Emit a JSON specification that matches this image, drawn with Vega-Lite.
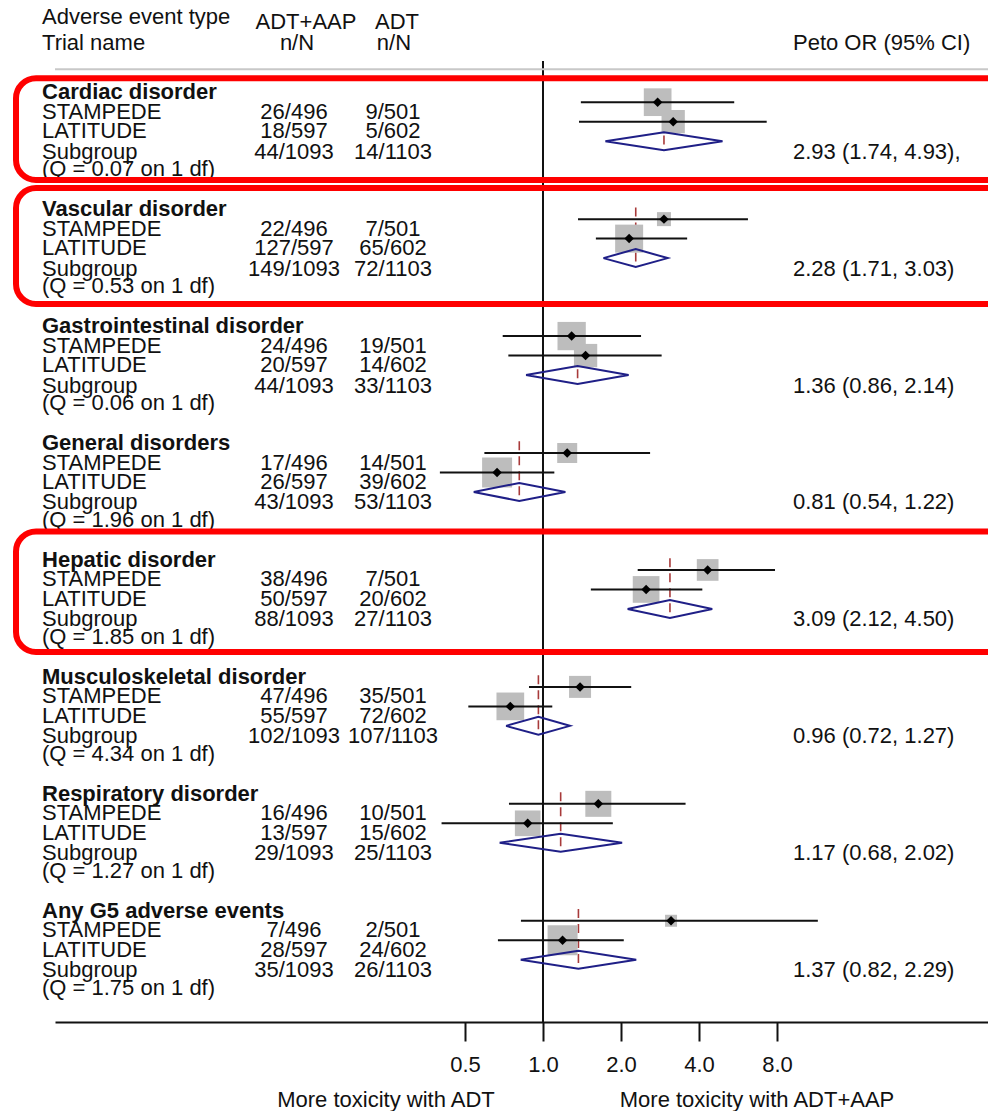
{
  "$schema": "https://vega.github.io/schema/vega-lite/v6.json",
  "width": 933,
  "height": 1022,
  "padding": {"left": 55, "top": 0, "right": 0, "bottom": 89},
  "autosize": {"type": "none"},
  "background": "white",
  "config": {
    "view": {"stroke": null},
    "text": {"font": "Liberation Sans", "fontSize": 22, "color": "#111111", "baseline": "middle", "dy": 9.5},
    "axisX": {"grid": false, "tickSize": 19, "tickWidth": 2, "tickColor": "#111111", "domainColor": "#111111", "domainWidth": 2, "labelFont": "Liberation Sans", "labelFontSize": 22, "labelColor": "#111111", "labelPadding": 13, "labelOverlap": false, "labelFlush": false}
  },
  "datasets": {
    "trials": [
      {"g": 0, "trial": "STAMPEDE", "row": 1, "or": 2.77, "lo": 1.40, "hi": 5.47, "w": 767},
      {"g": 0, "trial": "LATITUDE", "row": 2, "or": 3.18, "lo": 1.377, "hi": 7.30, "w": 543},
      {"g": 1, "trial": "STAMPEDE", "row": 7, "or": 2.93, "lo": 1.365, "hi": 6.18, "w": 196},
      {"g": 1, "trial": "LATITUDE", "row": 8, "or": 2.15, "lo": 1.60, "hi": 3.60, "w": 784},
      {"g": 2, "trial": "STAMPEDE", "row": 13, "or": 1.29, "lo": 0.699, "hi": 2.39, "w": 801},
      {"g": 2, "trial": "LATITUDE", "row": 14, "or": 1.46, "lo": 0.735, "hi": 2.87, "w": 543},
      {"g": 3, "trial": "STAMPEDE", "row": 19, "or": 1.24, "lo": 0.594, "hi": 2.59, "w": 400},
      {"g": 3, "trial": "LATITUDE", "row": 20, "or": 0.665, "lo": 0.400, "hi": 1.106, "w": 900},
      {"g": 4, "trial": "STAMPEDE", "row": 25, "or": 4.32, "lo": 2.32, "hi": 7.86, "w": 471},
      {"g": 4, "trial": "LATITUDE", "row": 26, "or": 2.50, "lo": 1.53, "hi": 4.12, "w": 713},
      {"g": 5, "trial": "STAMPEDE", "row": 31, "or": 1.39, "lo": 0.883, "hi": 2.19, "w": 484},
      {"g": 5, "trial": "LATITUDE", "row": 32, "or": 0.748, "lo": 0.515, "hi": 1.086, "w": 767},
      {"g": 6, "trial": "STAMPEDE", "row": 37, "or": 1.635, "lo": 0.739, "hi": 3.55, "w": 676},
      {"g": 6, "trial": "LATITUDE", "row": 38, "or": 0.873, "lo": 0.406, "hi": 1.86, "w": 660},
      {"g": 7, "trial": "STAMPEDE", "row": 43, "or": 3.12, "lo": 0.822, "hi": 11.5, "w": 144},
      {"g": 7, "trial": "LATITUDE", "row": 44, "or": 1.19, "lo": 0.670, "hi": 2.05, "w": 900}
    ],
    "subgroups": [
      {"g": 0, "or": 2.93, "lo": 1.74, "hi": 4.93, "top": 0.4, "bot": 3.48},
      {"g": 1, "or": 2.28, "lo": 1.71, "hi": 3.03, "top": 6.4, "bot": 9.48},
      {"g": 2, "or": 1.36, "lo": 0.86, "hi": 2.14, "top": 12.4, "bot": 15.48},
      {"g": 3, "or": 0.81, "lo": 0.54, "hi": 1.22, "top": 18.4, "bot": 21.48},
      {"g": 4, "or": 3.09, "lo": 2.12, "hi": 4.50, "top": 24.4, "bot": 27.48},
      {"g": 5, "or": 0.96, "lo": 0.72, "hi": 1.27, "top": 30.4, "bot": 33.48},
      {"g": 6, "or": 1.17, "lo": 0.68, "hi": 2.02, "top": 36.4, "bot": 39.48},
      {"g": 7, "or": 1.37, "lo": 0.82, "hi": 2.29, "top": 42.4, "bot": 45.48}
    ],
    "diamonds": [
      {"g": 0, "k": 0, "x": 1.74, "y": 3}, {"g": 0, "k": 1, "x": 2.93, "y": 2.54}, {"g": 0, "k": 2, "x": 4.93, "y": 3}, {"g": 0, "k": 3, "x": 2.93, "y": 3.46}, {"g": 0, "k": 4, "x": 1.74, "y": 3},
      {"g": 1, "k": 0, "x": 1.71, "y": 9}, {"g": 1, "k": 1, "x": 2.28, "y": 8.54}, {"g": 1, "k": 2, "x": 3.03, "y": 9}, {"g": 1, "k": 3, "x": 2.28, "y": 9.46}, {"g": 1, "k": 4, "x": 1.71, "y": 9},
      {"g": 2, "k": 0, "x": 0.86, "y": 15}, {"g": 2, "k": 1, "x": 1.36, "y": 14.54}, {"g": 2, "k": 2, "x": 2.14, "y": 15}, {"g": 2, "k": 3, "x": 1.36, "y": 15.46}, {"g": 2, "k": 4, "x": 0.86, "y": 15},
      {"g": 3, "k": 0, "x": 0.54, "y": 21}, {"g": 3, "k": 1, "x": 0.81, "y": 20.54}, {"g": 3, "k": 2, "x": 1.22, "y": 21}, {"g": 3, "k": 3, "x": 0.81, "y": 21.46}, {"g": 3, "k": 4, "x": 0.54, "y": 21},
      {"g": 4, "k": 0, "x": 2.12, "y": 27}, {"g": 4, "k": 1, "x": 3.09, "y": 26.54}, {"g": 4, "k": 2, "x": 4.50, "y": 27}, {"g": 4, "k": 3, "x": 3.09, "y": 27.46}, {"g": 4, "k": 4, "x": 2.12, "y": 27},
      {"g": 5, "k": 0, "x": 0.72, "y": 33}, {"g": 5, "k": 1, "x": 0.96, "y": 32.54}, {"g": 5, "k": 2, "x": 1.27, "y": 33}, {"g": 5, "k": 3, "x": 0.96, "y": 33.46}, {"g": 5, "k": 4, "x": 0.72, "y": 33},
      {"g": 6, "k": 0, "x": 0.68, "y": 39}, {"g": 6, "k": 1, "x": 1.17, "y": 38.54}, {"g": 6, "k": 2, "x": 2.02, "y": 39}, {"g": 6, "k": 3, "x": 1.17, "y": 39.46}, {"g": 6, "k": 4, "x": 0.68, "y": 39},
      {"g": 7, "k": 0, "x": 0.82, "y": 45}, {"g": 7, "k": 1, "x": 1.37, "y": 44.54}, {"g": 7, "k": 2, "x": 2.29, "y": 45}, {"g": 7, "k": 3, "x": 1.37, "y": 45.46}, {"g": 7, "k": 4, "x": 0.82, "y": 45}
    ],
    "table": [
      {"row": 0, "name": "Cardiac disorder", "bold": true},
      {"row": 1, "name": "STAMPEDE", "aap": "26/496", "adt": "9/501"},
      {"row": 2, "name": "LATITUDE", "aap": "18/597", "adt": "5/602"},
      {"row": 3.05, "name": "Subgroup", "aap": "44/1093", "adt": "14/1103", "ci": "2.93 (1.74, 4.93),"},
      {"row": 3.95, "name": "(Q = 0.07 on 1 df)"},
      {"row": 6, "name": "Vascular disorder", "bold": true},
      {"row": 7, "name": "STAMPEDE", "aap": "22/496", "adt": "7/501"},
      {"row": 8, "name": "LATITUDE", "aap": "127/597", "adt": "65/602"},
      {"row": 9.05, "name": "Subgroup", "aap": "149/1093", "adt": "72/1103", "ci": "2.28 (1.71, 3.03)"},
      {"row": 9.95, "name": "(Q = 0.53 on 1 df)"},
      {"row": 12, "name": "Gastrointestinal disorder", "bold": true},
      {"row": 13, "name": "STAMPEDE", "aap": "24/496", "adt": "19/501"},
      {"row": 14, "name": "LATITUDE", "aap": "20/597", "adt": "14/602"},
      {"row": 15.05, "name": "Subgroup", "aap": "44/1093", "adt": "33/1103", "ci": "1.36 (0.86, 2.14)"},
      {"row": 15.95, "name": "(Q = 0.06 on 1 df)"},
      {"row": 18, "name": "General disorders", "bold": true},
      {"row": 19, "name": "STAMPEDE", "aap": "17/496", "adt": "14/501"},
      {"row": 20, "name": "LATITUDE", "aap": "26/597", "adt": "39/602"},
      {"row": 21.05, "name": "Subgroup", "aap": "43/1093", "adt": "53/1103", "ci": "0.81 (0.54, 1.22)"},
      {"row": 21.95, "name": "(Q = 1.96 on 1 df)"},
      {"row": 24, "name": "Hepatic disorder", "bold": true},
      {"row": 25, "name": "STAMPEDE", "aap": "38/496", "adt": "7/501"},
      {"row": 26, "name": "LATITUDE", "aap": "50/597", "adt": "20/602"},
      {"row": 27.05, "name": "Subgroup", "aap": "88/1093", "adt": "27/1103", "ci": "3.09 (2.12, 4.50)"},
      {"row": 27.95, "name": "(Q = 1.85 on 1 df)"},
      {"row": 30, "name": "Musculoskeletal disorder", "bold": true},
      {"row": 31, "name": "STAMPEDE", "aap": "47/496", "adt": "35/501"},
      {"row": 32, "name": "LATITUDE", "aap": "55/597", "adt": "72/602"},
      {"row": 33.05, "name": "Subgroup", "aap": "102/1093", "adt": "107/1103", "ci": "0.96 (0.72, 1.27)"},
      {"row": 33.95, "name": "(Q = 4.34 on 1 df)"},
      {"row": 36, "name": "Respiratory disorder", "bold": true},
      {"row": 37, "name": "STAMPEDE", "aap": "16/496", "adt": "10/501"},
      {"row": 38, "name": "LATITUDE", "aap": "13/597", "adt": "15/602"},
      {"row": 39.05, "name": "Subgroup", "aap": "29/1093", "adt": "25/1103", "ci": "1.17 (0.68, 2.02)"},
      {"row": 39.95, "name": "(Q = 1.27 on 1 df)"},
      {"row": 42, "name": "Any G5 adverse events", "bold": true},
      {"row": 43, "name": "STAMPEDE", "aap": "7/496", "adt": "2/501"},
      {"row": 44, "name": "LATITUDE", "aap": "28/597", "adt": "24/602"},
      {"row": 45.05, "name": "Subgroup", "aap": "35/1093", "adt": "26/1103", "ci": "1.37 (0.82, 2.29)"},
      {"row": 45.95, "name": "(Q = 1.75 on 1 df)"}
    ],
    "boxes": [
      {"name": "Cardiac", "top": -0.226, "bot": 4.99},
      {"name": "Vascular", "top": 5.40, "bot": 11.36},
      {"name": "Hepatic", "top": 23.03, "bot": 29.21}
    ]
  },
  "layer": [
    {
      "data": {"name": "subgroups"},
      "mark": {"type": "rule", "color": "#a83a3a", "strokeWidth": 1.6, "strokeDash": [9, 6]},
      "encoding": {
        "x": {"field": "or", "type": "quantitative", "scale": {"type": "log", "domain": [0.013081, 52.17], "nice": false}, "axis": {"values": [0.5, 1, 2, 4, 8], "format": ".1f", "title": null}},
        "y": {"field": "top", "type": "quantitative", "scale": {"domain": [-4.243, 48.194], "reverse": true, "nice": false, "zero": false}, "axis": null},
        "y2": {"field": "bot"}
      }
    },
    {
      "data": {"values": [{"ref": 1}]},
      "mark": {"type": "rule", "color": "#111111", "strokeWidth": 2},
      "encoding": {
        "x": {"field": "ref", "type": "quantitative", "axis": {"values": [0.5, 1, 2, 4, 8], "format": ".1f", "title": null}},
        "y": {"datum": -1.11, "type": "quantitative", "axis": null},
        "y2": {"datum": 48.194}
      }
    },
    {
      "data": {"values": [{"a": 0.013081, "b": 52.17}]},
      "mark": {"type": "rule", "color": "#c8c8c8", "strokeWidth": 2},
      "encoding": {
        "x": {"field": "a", "type": "quantitative", "axis": {"values": [0.5, 1, 2, 4, 8], "format": ".1f", "title": null}},
        "x2": {"field": "b"},
        "y": {"datum": -0.69, "type": "quantitative", "axis": null}
      }
    },
    {
      "data": {"name": "trials"},
      "mark": {"type": "point", "shape": "square", "filled": true, "color": "#bdbdbd", "opacity": 1, "strokeWidth": 0},
      "encoding": {
        "x": {"field": "or", "type": "quantitative", "axis": {"values": [0.5, 1, 2, 4, 8], "format": ".1f", "title": null}},
        "y": {"field": "row", "type": "quantitative", "axis": null},
        "size": {"field": "w", "type": "quantitative", "scale": {"type": "linear", "domain": [0, 1000], "range": [0, 1000]}, "legend": null}
      }
    },
    {
      "data": {"name": "trials"},
      "mark": {"type": "rule", "color": "#111111", "strokeWidth": 2},
      "encoding": {
        "x": {"field": "lo", "type": "quantitative", "axis": {"values": [0.5, 1, 2, 4, 8], "format": ".1f", "title": null}},
        "x2": {"field": "hi"},
        "y": {"field": "row", "type": "quantitative", "axis": null}
      }
    },
    {
      "data": {"name": "trials"},
      "mark": {"type": "point", "shape": "diamond", "filled": true, "color": "#000000", "opacity": 1, "size": 90},
      "encoding": {
        "x": {"field": "or", "type": "quantitative", "axis": {"values": [0.5, 1, 2, 4, 8], "format": ".1f", "title": null}},
        "y": {"field": "row", "type": "quantitative", "axis": null}
      }
    },
    {
      "data": {"name": "diamonds"},
      "mark": {"type": "line", "color": "#1f1f87", "strokeWidth": 2, "interpolate": "linear"},
      "encoding": {
        "x": {"field": "x", "type": "quantitative", "axis": {"values": [0.5, 1, 2, 4, 8], "format": ".1f", "title": null}},
        "y": {"field": "y", "type": "quantitative", "axis": null},
        "detail": {"field": "g", "type": "nominal"},
        "order": {"field": "k", "type": "quantitative"}
      }
    },
    {
      "data": {"name": "table"},
      "transform": [{"filter": "!datum.bold"}],
      "mark": {"type": "text", "align": "left"},
      "encoding": {
        "x": {"datum": 0.011655, "type": "quantitative", "axis": {"values": [0.5, 1, 2, 4, 8], "format": ".1f", "title": null}},
        "y": {"field": "row", "type": "quantitative", "axis": null},
        "text": {"field": "name"}
      }
    },
    {
      "data": {"name": "table"},
      "transform": [{"filter": "datum.bold"}],
      "mark": {"type": "text", "align": "left", "fontWeight": "bold"},
      "encoding": {
        "x": {"datum": 0.011655, "type": "quantitative", "axis": {"values": [0.5, 1, 2, 4, 8], "format": ".1f", "title": null}},
        "y": {"field": "row", "type": "quantitative", "axis": null},
        "text": {"field": "name"}
      }
    },
    {
      "data": {"name": "table"},
      "transform": [{"filter": "datum.aap"}],
      "mark": {"type": "text", "align": "center"},
      "encoding": {
        "x": {"datum": 0.1094, "type": "quantitative", "axis": {"values": [0.5, 1, 2, 4, 8], "format": ".1f", "title": null}},
        "y": {"field": "row", "type": "quantitative", "axis": null},
        "text": {"field": "aap"}
      }
    },
    {
      "data": {"name": "table"},
      "transform": [{"filter": "datum.adt"}],
      "mark": {"type": "text", "align": "center"},
      "encoding": {
        "x": {"datum": 0.2637, "type": "quantitative", "axis": {"values": [0.5, 1, 2, 4, 8], "format": ".1f", "title": null}},
        "y": {"field": "row", "type": "quantitative", "axis": null},
        "text": {"field": "adt"}
      }
    },
    {
      "data": {"name": "table"},
      "transform": [{"filter": "datum.ci"}],
      "mark": {"type": "text", "align": "left"},
      "encoding": {
        "x": {"datum": 9.2216, "type": "quantitative", "axis": {"values": [0.5, 1, 2, 4, 8], "format": ".1f", "title": null}},
        "y": {"field": "row", "type": "quantitative", "axis": null},
        "text": {"field": "ci"}
      }
    },
    {
      "data": {"values": [{"row": -3.87, "t": "Adverse event type"}, {"row": -2.53, "t": "Trial name"}]},
      "mark": {"type": "text", "align": "left"},
      "encoding": {
        "x": {"datum": 0.011655, "type": "quantitative", "axis": {"values": [0.5, 1, 2, 4, 8], "format": ".1f", "title": null}},
        "y": {"field": "row", "type": "quantitative", "axis": null},
        "text": {"field": "t"}
      }
    },
    {
      "data": {"values": [{"row": -3.61, "t": "ADT+AAP"}]},
      "mark": {"type": "text", "align": "center"},
      "encoding": {
        "x": {"datum": 0.12171, "type": "quantitative", "axis": {"values": [0.5, 1, 2, 4, 8], "format": ".1f", "title": null}},
        "y": {"field": "row", "type": "quantitative", "axis": null},
        "text": {"field": "t"}
      }
    },
    {
      "data": {"values": [{"row": -2.5, "t": "n/N"}]},
      "mark": {"type": "text", "align": "center"},
      "encoding": {
        "x": {"datum": 0.11237, "type": "quantitative", "axis": {"values": [0.5, 1, 2, 4, 8], "format": ".1f", "title": null}},
        "y": {"field": "row", "type": "quantitative", "axis": null},
        "text": {"field": "t"}
      }
    },
    {
      "data": {"values": [{"row": -3.61, "t": "ADT"}]},
      "mark": {"type": "text", "align": "center"},
      "encoding": {
        "x": {"datum": 0.27322, "type": "quantitative", "axis": {"values": [0.5, 1, 2, 4, 8], "format": ".1f", "title": null}},
        "y": {"field": "row", "type": "quantitative", "axis": null},
        "text": {"field": "t"}
      }
    },
    {
      "data": {"values": [{"row": -2.5, "t": "n/N"}]},
      "mark": {"type": "text", "align": "center"},
      "encoding": {
        "x": {"datum": 0.26602, "type": "quantitative", "axis": {"values": [0.5, 1, 2, 4, 8], "format": ".1f", "title": null}},
        "y": {"field": "row", "type": "quantitative", "axis": null},
        "text": {"field": "t"}
      }
    },
    {
      "data": {"values": [{"row": -2.5, "t": "Peto OR (95% CI)"}]},
      "mark": {"type": "text", "align": "left"},
      "encoding": {
        "x": {"datum": 9.2216, "type": "quantitative", "axis": {"values": [0.5, 1, 2, 4, 8], "format": ".1f", "title": null}},
        "y": {"field": "row", "type": "quantitative", "axis": null},
        "text": {"field": "t"}
      }
    },
    {
      "data": {"values": [{"row": 51.71, "t": "More toxicity with ADT"}]},
      "mark": {"type": "text", "align": "center"},
      "encoding": {
        "x": {"datum": 0.24779, "type": "quantitative", "axis": {"values": [0.5, 1, 2, 4, 8], "format": ".1f", "title": null}},
        "y": {"field": "row", "type": "quantitative", "axis": null},
        "text": {"field": "t"}
      }
    },
    {
      "data": {"values": [{"row": 51.71, "t": "More toxicity with ADT+AAP"}]},
      "mark": {"type": "text", "align": "center"},
      "encoding": {
        "x": {"datum": 6.698, "type": "quantitative", "axis": {"values": [0.5, 1, 2, 4, 8], "format": ".1f", "title": null}},
        "y": {"field": "row", "type": "quantitative", "axis": null},
        "text": {"field": "t"}
      }
    },
    {
      "data": {"name": "boxes"},
      "mark": {"type": "rect", "filled": false, "color": "#ff0000", "strokeWidth": 6, "cornerRadius": 20},
      "encoding": {
        "x": {"datum": 0.00925, "type": "quantitative", "axis": {"values": [0.5, 1, 2, 4, 8], "format": ".1f", "title": null}},
        "x2": {"datum": 63.4},
        "y": {"field": "top", "type": "quantitative", "axis": null},
        "y2": {"field": "bot"}
      }
    }
  ]
}
